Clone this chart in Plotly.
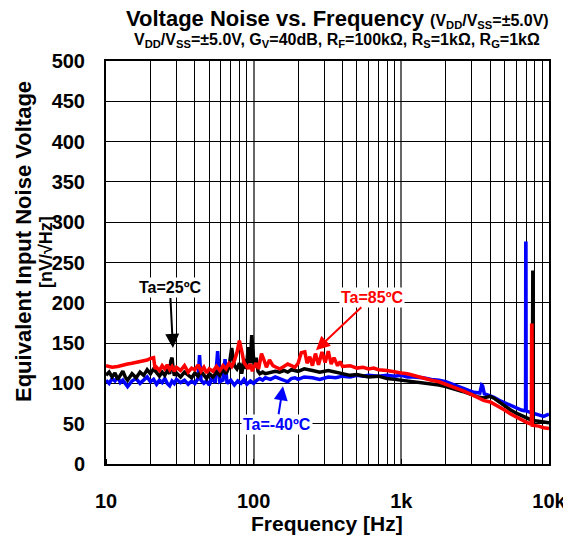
import math
import plotly.graph_objects as go

# -40 degC (blue)
f_m40 = [10, 10.5, 11, 11.5, 12, 12.5, 13, 14, 15, 16, 17, 18, 19, 20, 21, 22, 23, 24, 25, 26,
         27, 28, 29, 30, 32, 34, 36, 38, 40, 42, 43, 44, 46, 48, 50, 52, 55, 57, 59, 62,
         64, 66, 70, 74, 78, 82, 86, 90, 95, 100, 105, 110, 115, 120, 130, 140, 150, 160, 170, 180,
         190, 200, 220, 250, 280, 320, 360, 400, 450, 500, 550, 600, 700, 800, 900, 1000, 1100, 1200, 1400, 1600,
         1800, 2000, 2200, 2500, 2800, 3100, 3400, 3500, 3550, 3650, 3800, 4200, 4600, 5000, 5500, 6000, 6500, 6800, 6940, 6960,
         6980, 7000, 7200, 7400, 7800, 8500, 9200, 10000]
v_m40 = [104, 100, 106, 103, 108, 101, 104, 96, 103, 106, 100, 104, 108, 102, 105, 99, 104, 101, 106, 100,
         97, 103, 100, 105, 101, 104, 99, 103, 100, 106, 135, 104, 100, 103, 98, 106, 101, 140, 102, 104,
         130, 100, 104, 98, 103, 100, 105, 99, 103, 100, 104, 106, 104, 107, 105, 108, 106, 104, 102, 106,
         107, 105, 108, 107, 105, 108, 107, 109, 108, 110, 109, 110, 109, 110, 109, 110, 108, 108, 107, 105,
         104, 102, 99, 96, 92, 89, 88, 98, 97, 87, 86, 83, 79, 76, 72, 70, 67, 66, 66, 274,
         274, 66, 65, 64, 63, 61, 59, 62]

# 25 degC (black)
f_25 = [10, 10.5, 11, 11.5, 12, 12.5, 13, 13.5, 14, 15, 16, 17, 18, 19, 20, 21, 22, 23, 24, 25,
        26, 27, 27.5, 28, 28.5, 29, 30, 32, 34, 36, 38, 40, 42, 44, 46, 48, 50, 53, 56, 59,
        62, 65, 68, 71, 74, 77, 80, 83, 86, 89, 92, 95, 97, 99, 101, 104, 107, 110, 115, 120,
        130, 140, 150, 160, 170, 180, 200, 220, 250, 280, 320, 360, 400, 450, 500, 600, 700, 800, 900, 1000,
        1200, 1400, 1600, 1800, 2000, 2300, 2600, 3000, 3300, 3600, 4000, 4300, 4600, 5000, 5500, 6000, 6500, 7000, 7500, 7700,
        7730, 7770, 7800, 8500, 9200, 10000]
v_25 = [110, 114, 108, 113, 105, 110, 115, 108, 104, 112, 107, 114, 110, 117, 112, 118, 113, 109, 114, 110,
        116, 112, 128, 132, 118, 110, 113, 108, 114, 110, 107, 113, 109, 115, 110, 106, 112, 108, 114, 110,
        118, 112, 120, 144, 122, 118, 125, 112, 130, 118, 145, 125, 160, 140, 120, 132, 115, 112, 114, 112,
        113, 115, 114, 116, 114, 117, 115, 118, 116, 114, 116, 114, 112, 110, 111, 108, 109, 106, 105, 104,
        102, 101, 100, 98, 96, 93, 90, 86, 83, 82, 84, 81, 77, 72, 67, 63, 60, 57, 55, 55,
        240, 240, 54, 53, 52, 51]

# 85 degC (red)
f_85 = [10, 11, 12, 13, 14, 15, 16, 17, 18, 19, 20, 21, 21.5, 22, 23, 24, 25, 26, 27, 28,
        29, 30, 32, 34, 36, 38, 40, 42, 44, 46, 48, 50, 53, 56, 59, 62, 65, 68, 71, 74,
        77, 80, 83, 86, 89, 92, 95, 98, 100, 104, 108, 113, 118, 122, 128, 135, 142, 150, 160, 170,
        180, 190, 200, 210, 222, 230, 240, 250, 262, 275, 290, 305, 320, 335, 350, 370, 385, 400, 450, 500,
        550, 600, 650, 700, 800, 900, 1000, 1100, 1200, 1400, 1600, 1800, 2000, 2300, 2600, 3000, 3300, 3600, 4000, 4500,
        5000, 5500, 6000, 6500, 7000, 7400, 7600, 7630, 7670, 7700, 8500, 9200, 10000]
v_85 = [122, 120, 121, 123, 124, 125, 126, 127, 128, 129, 131, 132, 118, 120, 116, 122, 118, 123, 117, 121,
        115, 120, 116, 122, 114, 119, 117, 123, 115, 120, 113, 118, 115, 121, 116, 122, 118, 125, 121, 128,
        138, 153, 140, 126, 122, 118, 124, 115, 120, 125, 118, 137, 128, 120, 129, 122, 120, 118, 121, 124,
        122, 120, 125, 138, 139, 125, 133, 122, 137, 123, 139, 126, 140, 124, 132, 122, 127, 121, 122, 119,
        120, 118, 119, 117, 116, 114, 113, 112, 110, 107, 104, 102, 99, 95, 91, 86, 82, 79, 77, 72,
        67, 62, 58, 55, 52, 50, 50, 172, 172, 48, 47, 45, 44]

x_ticks = [10, 100, 1000, 10000]
x_labels = ["10", "100", "1k", "10k"]
y_ticks = list(range(0, 501, 50))

FONT = "Arial, Liberation Sans, sans-serif"

# the page body has an 8px margin, so the plot area is placed with that in mind
PL, PT, PW, PH = 106, 61, 443, 403


def px(xp):
    return (xp - PL) / PW


def py(yp):
    return 1 - (yp - PT) / PH


fig = go.Figure()
fig.add_trace(go.Scatter(x=f_m40, y=v_m40, mode="lines", line=dict(color="#0000ff", width=3.5), name="Ta=-40ºC"))
fig.add_trace(go.Scatter(x=f_25, y=v_25, mode="lines", line=dict(color="#000000", width=3.5), name="Ta=25ºC"))
fig.add_trace(go.Scatter(x=f_85, y=v_85, mode="lines", line=dict(color="#ff0000", width=3.5), name="Ta=85ºC"))

fig.update_layout(
    width=571, height=543,
    margin=dict(l=PL - 8, r=571 - (PL + PW) + 8, t=PT - 8, b=543 - (PT + PH) + 8),
    paper_bgcolor="white", plot_bgcolor="white",
    showlegend=False,
    font=dict(family=FONT, color="black"),
)

fig.update_xaxes(
    type="log", range=[1, 4],
    tickvals=x_ticks, ticktext=["<b>%s</b>" % t for t in x_labels],
    tickfont=dict(size=20, family=FONT),
    ticklabelstandoff=18,
    showgrid=True, gridcolor="#666666", gridwidth=1.5,
    minor=dict(dtick="D1", showgrid=True, gridcolor="black", gridwidth=1, ticks="inside", ticklen=5, tickcolor="black"),
    showline=True, linecolor="black", linewidth=2, mirror=True,
)
fig.update_yaxes(
    range=[0, 500],
    tickvals=y_ticks, ticktext=["<b>%d</b>" % t for t in y_ticks],
    tickfont=dict(size=20, family=FONT),
    ticklabelstandoff=15,
    showgrid=True, gridcolor="black", gridwidth=1,
    showline=True, linecolor="black", linewidth=2, mirror=True,
    zeroline=False,
)

texts = [
    ("<b>Voltage Noise vs. Frequency</b> <b><span style='font-size:16px'>(V<sub>DD</sub>/V<sub>SS</sub>=±5.0V)</span></b>",
     337, 18, 22, 0),
    ("<b>V<sub>DD</sub>/V<sub>SS</sub>=±5.0V, G<sub>V</sub>=40dB, R<sub>F</sub>=100kΩ, R<sub>S</sub>=1kΩ, R<sub>G</sub>=1kΩ</b>",
     337, 41, 16, 0),
    ("<b>Frequency [Hz]</b>", 327, 523, 21, 0),
    ("<b>Equivalent Input Noise Voltage</b>", 23, 242, 22, -90),
    ("<b>[nV/√Hz]</b>", 46, 252, 18, -90),
]
for txt, xp, yp, size, ang in texts:
    fig.add_annotation(text=txt, xref="paper", yref="paper", x=px(xp), y=py(yp),
                       xanchor="center", yanchor="middle", textangle=ang,
                       showarrow=False, font=dict(size=size, family=FONT, color="black"))

labels = [
    ("Ta=25ºC", "black", 28.4, 144, -3, -60),
    ("Ta=85ºC", "red", 264, 141, 56, -53),
    ("Ta=-40ºC", "blue", 158, 96.5, -6, 38),
]
for txt, col, fx, vy, ax, ay in labels:
    fig.add_annotation(text="<b>" + txt + "</b>", x=math.log10(fx), y=vy, xref="x", yref="y",
                       ax=ax, ay=ay, showarrow=True, arrowhead=2, arrowsize=1.4, arrowwidth=2,
                       arrowcolor=col, bgcolor="white", borderpad=1,
                       font=dict(size=16, family=FONT, color=col))

fig.write_html("out.html")
